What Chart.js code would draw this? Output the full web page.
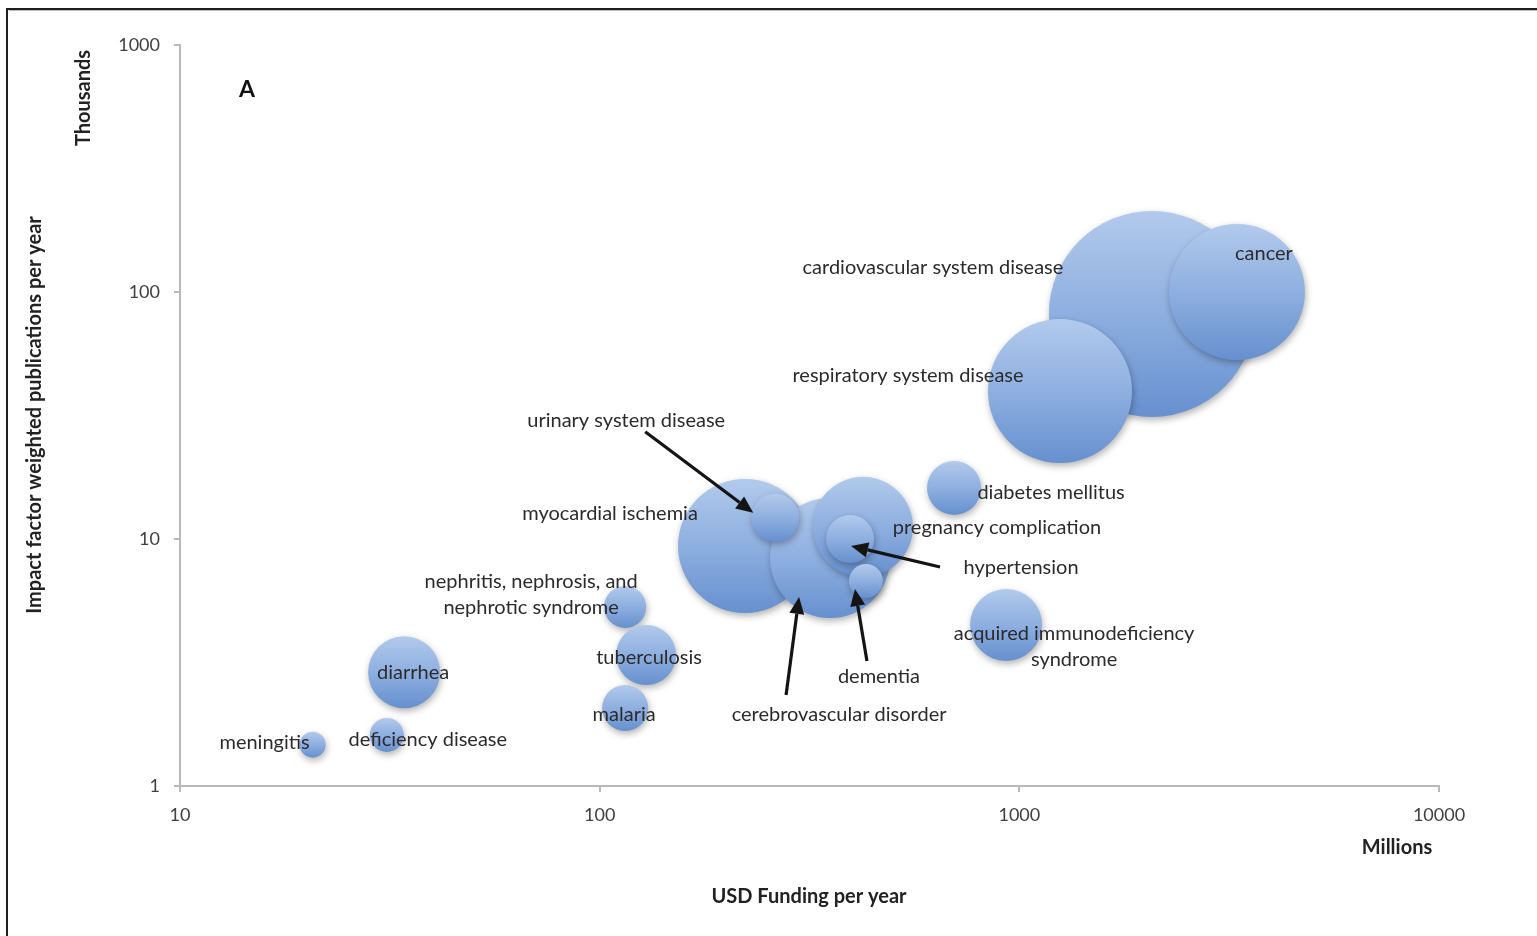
<!DOCTYPE html>
<html>
<head>
<meta charset="utf-8">
<script src="https://cdn.jsdelivr.net/npm/chart.js@4.4.0/dist/chart.umd.min.js"></script>
<style>
  html, body { margin: 0; padding: 0; background: #ffffff; overflow: hidden; }
  #wrap { position: relative; width: 1537px; height: 936px; }
</style>
</head>
<body>
<div id="wrap"><canvas id="chart" width="1537" height="936"></canvas></div>
<script>
// Disease categories, drawn in this order (later bubbles sit on top)
const diseases = [
  'cardiovascular system disease', 'cancer', 'respiratory system disease',
  'myocardial ischemia', 'cerebrovascular disorder', 'pregnancy complication',
  'hypertension', 'dementia', 'urinary system disease', 'diabetes mellitus',
  'acquired immunodeficiency syndrome', 'nephritis, nephrosis, and nephrotic syndrome',
  'tuberculosis', 'malaria', 'diarrhea', 'deficiency disease', 'meningitis'
];
// USD funding per year (millions)
const funding = [2070, 3300, 1250, 222, 354, 424, 395, 431, 262, 699, 930, 115, 129, 115, 34.2, 31.1, 20.7];
// Impact factor weighted publications per year (thousands)
const publications = [81.5, 100, 39.7, 9.37, 8.38, 11.2, 10.0, 6.76, 12.2, 16.1, 4.49, 5.31, 3.39, 2.07, 2.89, 1.61, 1.47];
// Bubble size (third dimension)
const bubbleSize = [103, 68, 72, 67, 60, 50, 24, 17, 24, 27, 36, 21, 30, 23, 36, 17, 13];

const xTickValues = [10, 100, 1000, 10000];
const yTickValues = [1, 10, 100, 1000];

// Label text lines and their placement relative to the bubble centre
const labelLines = {
  'cardiovascular system disease': ['cardiovascular system disease'],
  'cancer': ['cancer'],
  'respiratory system disease': ['respiratory system disease'],
  'myocardial ischemia': ['myocardial ischemia'],
  'cerebrovascular disorder': ['cerebrovascular disorder'],
  'pregnancy complication': ['pregnancy complication'],
  'hypertension': ['hypertension'],
  'dementia': ['dementia'],
  'urinary system disease': ['urinary system disease'],
  'diabetes mellitus': ['diabetes mellitus'],
  'acquired immunodeficiency syndrome': ['acquired immunodeficiency', 'syndrome'],
  'nephritis, nephrosis, and nephrotic syndrome': ['nephritis, nephrosis, and', 'nephrotic syndrome'],
  'tuberculosis': ['tuberculosis'],
  'malaria': ['malaria'],
  'diarrhea': ['diarrhea'],
  'deficiency disease': ['deficiency disease'],
  'meningitis': ['meningitis']
};
const labelOffset = {
  'cardiovascular system disease': [-219, -46],
  'cancer': [27, -38],
  'respiratory system disease': [-152, -16],
  'myocardial ischemia': [-135, -32],
  'cerebrovascular disorder': [9, 157],
  'pregnancy complication': [134, 1],
  'hypertension': [171, 29],
  'dementia': [13, 96],
  'urinary system disease': [-149, -97],
  'diabetes mellitus': [97, 5],
  'acquired immunodeficiency syndrome': [68, 22],
  'nephritis, nephrosis, and nephrotic syndrome': [-94, -12],
  'tuberculosis': [3, 3],
  'malaria': [-1, 7],
  'diarrhea': [9, 0],
  'deficiency disease': [41, 5],
  'meningitis': [-48, -2]
};
// Pointer arrows: [tail dx, tail dy, tip dx, tip dy] relative to the bubble centre
const arrowOffset = {
  'urinary system disease': [-130, -86, -22, -5],
  'cerebrovascular disorder': [-44, 137, -31, 39],
  'hypertension': [90, 28, 1, 7],
  'dementia': [1, 80, -11, 8]
};

const FONT = 'Lato, "Open Sans", sans-serif';

function bubbleFill(ctx) {
  const chart = ctx.chart;
  if (ctx.type !== 'data' || !chart.chartArea || !chart.scales.y) return '#88aadc';
  const y = chart.scales.y.getPixelForValue(ctx.raw.y);
  const r = ctx.raw.r;
  const g = chart.ctx.createLinearGradient(0, y - r, 0, y + r);
  g.addColorStop(0, '#b2caec');
  g.addColorStop(0.5, '#8eafe0');
  g.addColorStop(1, '#6690cf');
  return g;
}

function drawArrow(c, x1, y1, x2, y2) {
  const ang = Math.atan2(y2 - y1, x2 - x1);
  const headLen = 17, headHalf = 7.5;
  const bx = x2 - headLen * Math.cos(ang), by = y2 - headLen * Math.sin(ang);
  c.save();
  c.strokeStyle = '#141414';
  c.fillStyle = '#141414';
  c.lineWidth = 3.2;
  c.beginPath();
  c.moveTo(x1, y1);
  c.lineTo(bx, by);
  c.stroke();
  c.beginPath();
  c.moveTo(x2, y2);
  c.lineTo(bx + headHalf * Math.sin(ang), by - headHalf * Math.cos(ang));
  c.lineTo(bx - headHalf * Math.sin(ang), by + headHalf * Math.cos(ang));
  c.closePath();
  c.fill();
  c.restore();
}

const annotations = {
  id: 'annotations',
  beforeDraw(chart) {
    const c = chart.ctx;
    c.save();
    c.fillStyle = '#ffffff';
    c.fillRect(0, 0, chart.width, chart.height);
    // frame
    c.strokeStyle = '#1e1e1e';
    c.lineWidth = 2;
    c.beginPath();
    c.moveTo(7, chart.height);
    c.lineTo(7, 9);
    c.lineTo(chart.width, 9);
    c.stroke();
    c.strokeStyle = '#bdbdbd';
    c.lineWidth = 1;
    c.beginPath();
    c.moveTo(9, 10.5);
    c.lineTo(chart.width, 10.5);
    c.stroke();
    c.restore();
  },
  beforeDatasetsDraw(chart) {
    const c = chart.ctx;
    c.save();
    c.shadowColor = 'rgba(0,0,0,0.30)';
    c.shadowBlur = 7;
    c.shadowOffsetX = 1;
    c.shadowOffsetY = 3;
  },
  afterDatasetsDraw(chart) {
    const c = chart.ctx;
    c.restore();
    const xs = chart.scales.x, ys = chart.scales.y;
    c.save();
    c.fillStyle = '#2b2b2b';
    c.font = '20px ' + FONT;
    c.textAlign = 'center';
    c.textBaseline = 'middle';
    diseases.forEach((name, i) => {
      const px = xs.getPixelForValue(funding[i]);
      const py = ys.getPixelForValue(publications[i]);
      const [dx, dy] = labelOffset[name];
      const lines = labelLines[name];
      const lh = 26;
      const y0 = py + dy - (lines.length - 1) * lh / 2;
      lines.forEach((t, k) => c.fillText(t, px + dx, y0 + k * lh));
      const a = arrowOffset[name];
      if (a) drawArrow(c, px + a[0], py + a[1], px + a[2], py + a[3]);
    });
    // panel letter
    c.fillStyle = '#111111';
    c.font = 'bold 23px ' + FONT;
    c.fillText('A', 247, 90);
    // axis titles
    c.fillStyle = '#222222';
    c.font = 'bold 20px ' + FONT;
    c.fillText('USD Funding per year', 809, 897);
    c.fillText('Millions', 1397, 848);
    c.save();
    c.translate(84, 98);
    c.rotate(-Math.PI / 2);
    c.fillText('Thousands', 0, 0);
    c.restore();
    c.save();
    c.translate(35, 415);
    c.rotate(-Math.PI / 2);
    c.fillText('Impact factor weighted publications per year', 0, 0);
    c.restore();
    c.restore();
  }
};

const axisGrey = '#b9b9b9';

new Chart(document.getElementById('chart'), {
  type: 'bubble',
  data: {
    datasets: [{
      data: diseases.map((d, i) => ({ x: funding[i], y: publications[i], r: bubbleSize[i] })),
      backgroundColor: bubbleFill,
      borderWidth: 0,
      hoverBorderWidth: 0
    }]
  },
  options: {
    responsive: false,
    devicePixelRatio: 1,
    animation: false,
    events: [],
    layout: { autoPadding: false, padding: { left: 100, right: 98, top: 45, bottom: 100 } },
    plugins: { legend: { display: false }, tooltip: { enabled: false } },
    scales: {
      x: {
        type: 'logarithmic',
        min: 10,
        max: 10000,
        afterBuildTicks: s => { s.ticks = xTickValues.map(v => ({ value: v })); },
        afterFit: s => { s.height = 50; },
        ticks: {
          callback: v => String(v),
          autoSkip: false,
          maxRotation: 0,
          padding: 12,
          color: '#404040',
          font: { family: FONT, size: 18 }
        },
        grid: { display: true, drawOnChartArea: false, drawTicks: true, tickLength: 6, color: axisGrey, lineWidth: 2 },
        border: { display: true, color: axisGrey, width: 2 }
      },
      y: {
        type: 'logarithmic',
        min: 1,
        max: 1000,
        afterBuildTicks: s => { s.ticks = yTickValues.map(v => ({ value: v })); },
        afterFit: s => { s.width = 80; },
        ticks: {
          callback: v => String(v),
          autoSkip: false,
          padding: 14,
          color: '#404040',
          font: { family: FONT, size: 18 }
        },
        grid: { display: true, drawOnChartArea: false, drawTicks: true, tickLength: 6, color: axisGrey, lineWidth: 2 },
        border: { display: true, color: axisGrey, width: 2 }
      }
    }
  },
  plugins: [annotations]
});
</script>
</body>
</html>
